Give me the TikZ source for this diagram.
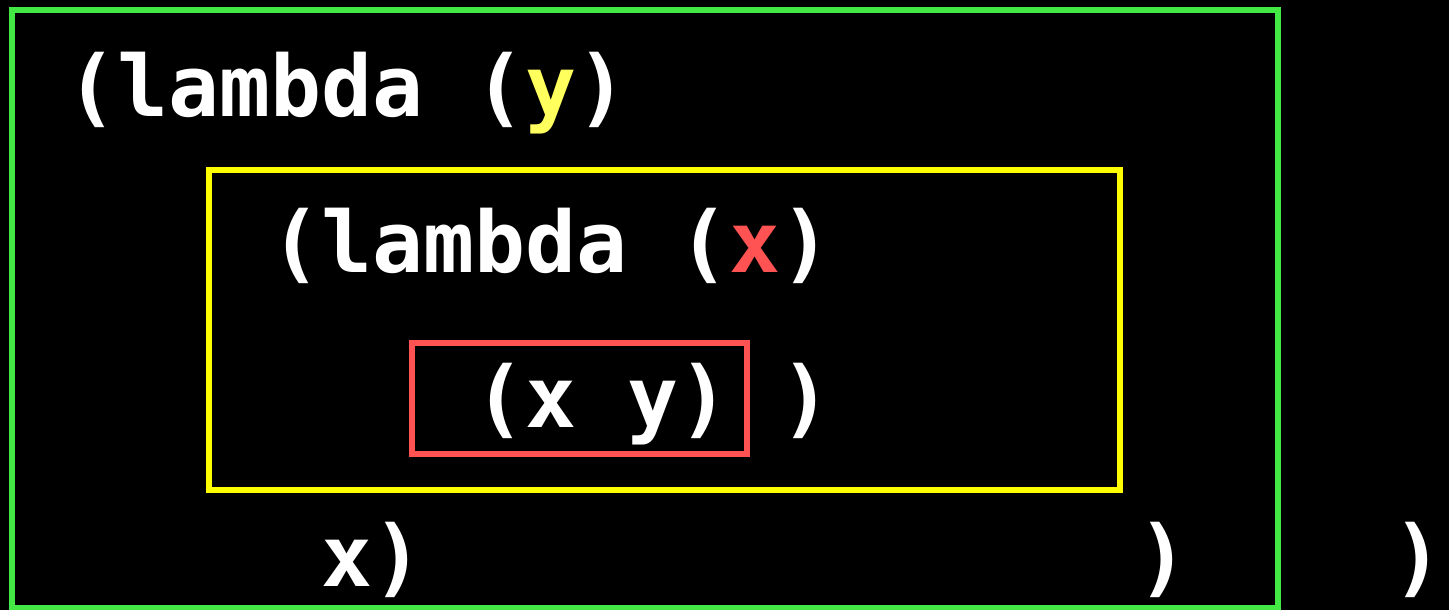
\documentclass[tikz,border=0pt]{standalone}
\usepackage{fontspec}
\setmonofont{DejaVu Sans Mono}
\definecolor{scopegreen}{HTML}{44E844}
\definecolor{scopeyellow}{HTML}{FFFF00}
\definecolor{scopered}{HTML}{FF5252}
\definecolor{varyellow}{HTML}{FFFF5E}
\begin{document}
\begin{tikzpicture}[x=0.01cm,y=-0.01cm,
      scopebox/.style={line width=.6mm},
      code/.style={anchor=base west,inner sep=0pt,text=white,
        font=\ttfamily\bfseries\fontsize{24.1}{29}\selectfont}]
    \fill[black] (0,0) rectangle (1449,610);
    \useasboundingbox (0,0) rectangle (1449,610);
    \foreach \c/\l/\t/\r/\b in {
      scopegreen/12/10/1278/608,
      scopeyellow/209/170/1120/490,
      scopered/412/343/747/454} {
      \draw[scopebox,draw=\c] (\l,\t) rectangle (\r,\b);
    }
    \node[code] (outer) at (66,117) {(lambda (\textcolor{varyellow}{y})};
    \node[code] (inner) at ({66+4*51},273) {(lambda (\textcolor{scopered}{x})};
    \node[code] (body) at ({66+8*51},428) {(x y)};
    \node[code] (innerend) at ({66+14*51},428) {)};
    \node[code] (arg) at ({66+5*51},587) {x)};
    \node[code] (outerend) at ({66+21*51},587) {)};
    \node[code] (append) at ({66+26*51},587) {)};
  \end{tikzpicture}
\end{document}
